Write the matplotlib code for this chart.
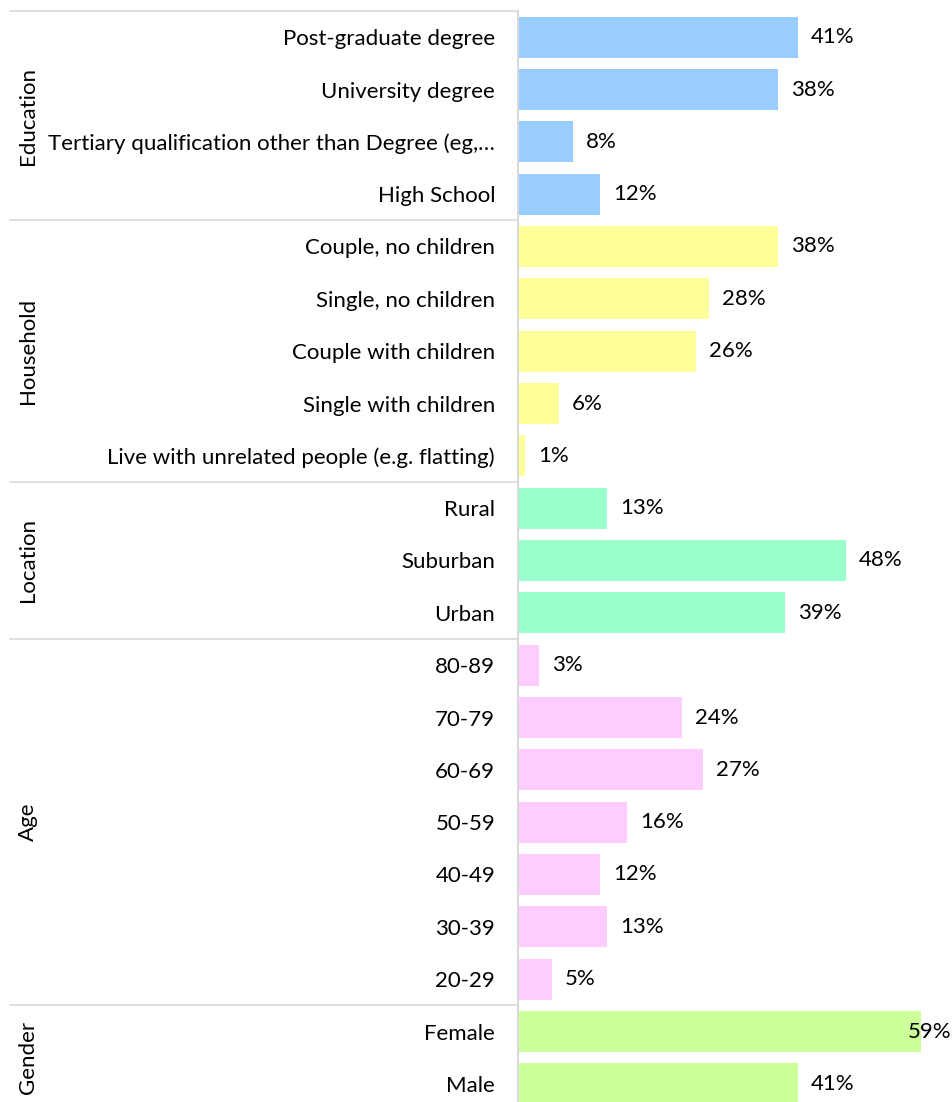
import matplotlib.pyplot as plt
import matplotlib.transforms as mtransforms

plt.rcParams['font.family'] = ['Lato', 'DejaVu Sans']

# groups, top to bottom
groups = ["Education", "Household", "Location", "Age", "Gender"]
education_labels = ["Post-graduate degree", "University degree",
                    "Tertiary qualification other than Degree (eg,…", "High School"]
education_values = [0.41, 0.38, 0.08, 0.12]
household_labels = ["Couple, no children", "Single, no children", "Couple with children",
                    "Single with children", "Live with unrelated people (e.g. flatting)"]
household_values = [0.38, 0.28, 0.26, 0.06, 0.01]
location_labels = ["Rural", "Suburban", "Urban"]
location_values = [0.13, 0.48, 0.39]
age_labels = ["80-89", "70-79", "60-69", "50-59", "40-49", "30-39", "20-29"]
age_values = [0.03, 0.24, 0.27, 0.16, 0.12, 0.13, 0.05]
gender_labels = ["Female", "Male"]
gender_values = [0.59, 0.41]

group_labels = [education_labels, household_labels, location_labels, age_labels, gender_labels]
group_values = [education_values, household_values, location_values, age_values, gender_values]
group_colors = ["#99CCFF", "#FFFF99", "#99FFCC", "#FFCCFF", "#CCFF99"]

W, H = 952, 1102
fig = plt.figure(figsize=(W / 100, H / 100), dpi=100)
left, right, top, bottom = 518, 928, 11, 1110
ax = fig.add_axes([left / W, (H - bottom) / H, (right - left) / W, (bottom - top) / H])

fs = 16
sep_color = "#D9D9D9"
trans = mtransforms.blended_transform_factory(ax.transAxes, ax.transData)
x_sep = (10 - left) / (right - left)
x_grp = (28 - left) / (right - left)

all_labels = []
pos = 0
for name, labels, values, color in zip(groups, group_labels, group_values, group_colors):
    ys = list(range(pos, pos + len(values)))
    ax.barh(ys, values, height=0.78, color=color)
    for y, v in zip(ys, values):
        if v >= 0.57:
            # no room on the right: label pushed back over the bar end
            ax.annotate(f"{v:.0%}", (v, y), xytext=(-9.4, 0), textcoords="offset points",
                        ha="left", va="center", fontsize=fs, annotation_clip=False)
        else:
            ax.annotate(f"{v:.0%}", (v, y), xytext=(9.4, 0), textcoords="offset points",
                        ha="left", va="center", fontsize=fs)
    all_labels += labels
    # separator above group
    ax.plot([x_sep, 0], [pos - 0.5, pos - 0.5], transform=trans, color=sep_color,
            lw=1.2, clip_on=False)
    ax.text(x_grp, pos + (len(values) - 1) / 2, name, transform=trans, rotation=90,
            ha="center", va="center", fontsize=fs)
    pos += len(values)

ax.set_yticks(range(pos))
ax.set_yticklabels(all_labels, fontsize=fs)
ax.tick_params(axis="y", length=0, pad=16.5)
ax.set_ylim(pos - 0.5, -0.5)
ax.set_xlim(0, 0.6)
ax.set_xticks([])
for s in ["top", "right", "bottom"]:
    ax.spines[s].set_visible(False)
ax.spines["left"].set_color(sep_color)
ax.spines["left"].set_linewidth(1.5)

fig.savefig("out.png", dpi=100)
